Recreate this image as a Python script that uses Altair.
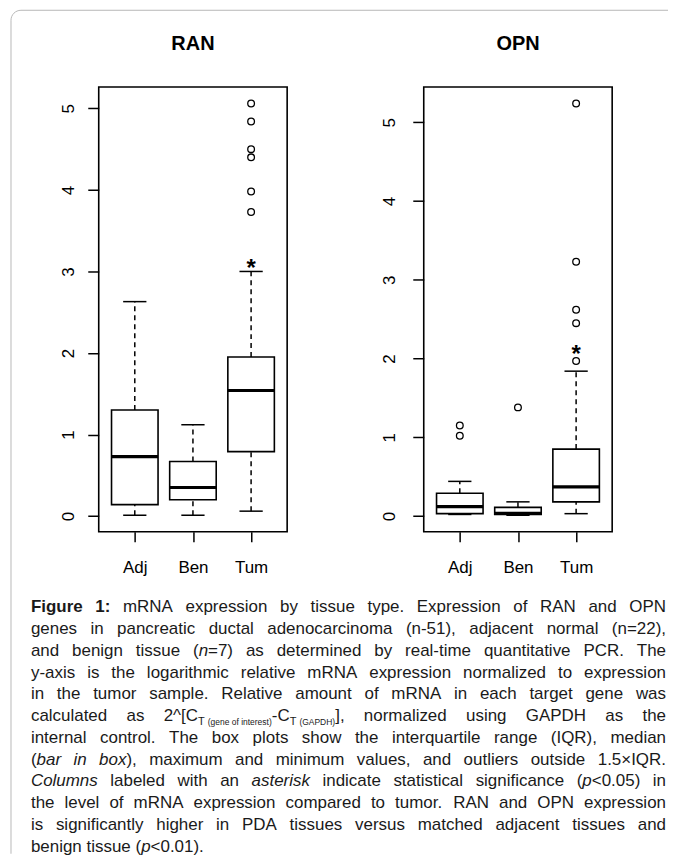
import json
import altair as alt
import pandas as pd

# ---------------- data ----------------
categories = ["Adj", "Ben", "Tum"]

ran_low = [0.01, 0.01, 0.06]
ran_q1 = [0.14, 0.20, 0.79]
ran_median = [0.73, 0.35, 1.54]
ran_q3 = [1.30, 0.67, 1.95]
ran_high = [2.63, 1.12, 3.00]
ran_outlier_group = ["Tum", "Tum", "Tum", "Tum", "Tum", "Tum"]
ran_outlier_value = [5.06, 4.84, 4.50, 4.40, 3.98, 3.73]
ran_star_group = ["Tum"]
ran_star_value = [3.11]

opn_low = [0.02, 0.01, 0.03]
opn_q1 = [0.03, 0.02, 0.18]
opn_median = [0.12, 0.035, 0.37]
opn_q3 = [0.29, 0.11, 0.85]
opn_high = [0.44, 0.18, 1.84]
opn_outlier_group = ["Adj", "Adj", "Ben", "Tum", "Tum", "Tum", "Tum", "Tum"]
opn_outlier_value = [1.15, 1.02, 1.38, 1.97, 2.45, 2.62, 3.23, 5.24]
opn_star_group = ["Tum"]
opn_star_value = [2.13]

y_ticks = [0, 1, 2, 3, 4, 5]

caption_lines = [
    "*Figure 1:* mRNA expression by tissue type. Expression of RAN and OPN",
    "genes in pancreatic ductal adenocarcinoma (n-51), adjacent normal (n=22),",
    "and benign tissue (_n_=7) as determined by real-time quantitative PCR. The",
    "y-axis is the logarithmic relative mRNA expression normalized to expression",
    "in the tumor sample. Relative amount of mRNA in each target gene was",
    "calculated as 2^[C~T ~`(gene of interest)`-C~T ~`(GAPDH)`], normalized using GAPDH as the",
    "internal control. The box plots show the interquartile range (IQR), median",
    "(_bar in box_), maximum and minimum values, and outliers outside 1.5\u00d7IQR.",
    "_Columns_ labeled with an _asterisk_ indicate statistical significance (_p_<0.05) in",
    "the level of mRNA expression compared to tumor. RAN and OPN expression",
    "is significantly higher in PDA tissues versus matched adjacent tissues and",
    "benign tissue (_p_<0.01).",
]

# ---------------- layout constants ----------------
FONT = "Liberation Sans"
PW, PH = 189, 446             # plot area of each panel
PLOT_LEFT, PLOT_TOP = 98, 87  # page position of the left plot area
CAP_X0, CAP_X1 = 30, 667
CAP_Y0, CAP_DY = 614, 21.8
CAP_FS = 17
FRAME_L, FRAME_T, FRAME_R, FRAME_B, FRAME_RAD = 10, 10, 669, 856, 10

# Arial / Liberation Sans advance widths (1/1000 em)
W = {}
for ch, w in zip(" !\"#$%&'()*+,-./", [278, 278, 355, 556, 556, 889, 667, 191, 333, 333, 389, 584, 278, 333, 278, 278]):
    W[ch] = w
for ch in "0123456789":
    W[ch] = 556
W.update({":": 278, ";": 278, "<": 584, "=": 584, ">": 584, "?": 556, "[": 278, "]": 278, "^": 469, "\u00d7": 584})
for ch, w in zip("ABCDEFGHIJKLMNOPQRSTUVWXYZ",
                 [667, 667, 722, 722, 667, 611, 778, 722, 278, 500, 667, 556, 833, 722, 778, 667, 778, 722, 667, 611, 722, 667, 944, 667, 667, 611]):
    W[ch] = w
for ch, w in zip("abcdefghijklmnopqrstuvwxyz",
                 [556, 556, 500, 556, 556, 278, 556, 556, 222, 222, 500, 222, 833, 556, 556, 556, 556, 333, 500, 278, 556, 500, 722, 500, 500, 500]):
    W[ch] = w
WB = dict(W)
WB.update({"F": 611, "i": 278, "g": 611, "u": 611, "r": 389, "e": 556, "1": 556, ":": 333})

STYLES = {
    "regular": dict(size=CAP_FS, weight="normal", style="normal", dy=0),
    "bold": dict(size=CAP_FS, weight="bold", style="normal", dy=0),
    "italic": dict(size=CAP_FS, weight="normal", style="italic", dy=0),
    "sub": dict(size=11, weight="normal", style="normal", dy=4),
    "tiny": dict(size=8.5, weight="normal", style="normal", dy=4),
}


def run_width(text, st):
    table = WB if st == "bold" else W
    return sum(table.get(c, 556) for c in text) * STYLES[st]["size"] / 1000.0


def parse_line(line):
    words, runs, buf = [], [], ""
    bold = ital = False
    sub = ""

    def cur():
        if bold:
            return "bold"
        if ital:
            return "italic"
        return sub or "regular"

    for ch in line:
        if ch in "*_~`":
            if buf:
                runs.append((buf, cur()))
                buf = ""
            if ch == "*":
                bold = not bold
            elif ch == "_":
                ital = not ital
            elif ch == "~":
                sub = "" if sub == "sub" else "sub"
            else:
                sub = "" if sub == "tiny" else "tiny"
        elif ch == " " and not sub:
            if buf:
                runs.append((buf, cur()))
                buf = ""
            if runs:
                words.append(runs)
                runs = []
        else:
            buf += ch
    if buf:
        runs.append((buf, cur()))
    if runs:
        words.append(runs)
    return words


cap_rows = {k: [] for k in STYLES}
for li, line in enumerate(caption_lines):
    words = parse_line(line)
    widths = [sum(run_width(t, s) for t, s in wd) for wd in words]
    natural = sum(widths)
    last = li == len(caption_lines) - 1
    gap = W[" "] * CAP_FS / 1000.0 if (last or len(words) < 2) else (CAP_X1 - CAP_X0 - natural) / (len(words) - 1)
    x = CAP_X0
    y = CAP_Y0 + li * CAP_DY
    for wd, ww in zip(words, widths):
        xx = x
        for t, s in wd:
            cap_rows[s].append({"px": xx - PLOT_LEFT, "py": y + STYLES[s]["dy"] - PLOT_TOP, "text": t})
            xx += run_width(t, s)
        x += ww + gap


def caption_layers():
    layers = []
    for s, rows in cap_rows.items():
        if not rows:
            continue
        st = STYLES[s]
        layers.append(
            alt.Chart(pd.DataFrame(rows)).mark_text(
                align="left", baseline="alphabetic", font=FONT, fontSize=st["size"],
                fontWeight=st["weight"], fontStyle=st["style"], color="#1a1a1a",
            ).encode(
                x=alt.X("px:Q", scale=None),
                y=alt.Y("py:Q", scale=None),
                text="text:N",
            )
        )
    return layers


def frame_layers():
    one = pd.DataFrame({"a": [0]})
    style = dict(color="#b8b8b8", strokeWidth=1)
    top = alt.Chart(one).mark_rule(**style).encode(
        x=alt.value(FRAME_L + FRAME_RAD - PLOT_LEFT), x2=alt.value(FRAME_R - PLOT_LEFT),
        y=alt.value(FRAME_T - PLOT_TOP))
    left_edge = alt.Chart(one).mark_rule(**style).encode(
        x=alt.value(FRAME_L - PLOT_LEFT),
        y=alt.value(FRAME_T + FRAME_RAD - PLOT_TOP), y2=alt.value(FRAME_B - PLOT_TOP))
    # rounded corner: quarter circle as a custom symbol path (scaled by sqrt(size)/2)
    corner = alt.Chart(one).mark_point(
        shape="M -1 0 A 1 1 0 0 1 0 -1", filled=False, stroke="#b8b8b8", strokeWidth=1,
        size=(2 * FRAME_RAD) ** 2, opacity=1,
    ).encode(x=alt.value(FRAME_L + FRAME_RAD - PLOT_LEFT), y=alt.value(FRAME_T + FRAME_RAD - PLOT_TOP))
    return [top, left_edge, corner]


def panel(gene, low, q1, med, q3, high, og, ov, sg, sv, label_pad, with_caption):
    pos = list(range(1, len(categories) + 1))
    box = pd.DataFrame({"cat": categories, "pos": pos, "low": low, "q1": q1,
                        "med": med, "q3": q3, "high": high})
    box["xl"] = box["pos"] - 0.4
    box["xr"] = box["pos"] + 0.4
    box["cl"] = box["pos"] - 0.2
    box["cr"] = box["pos"] + 0.2
    outl = pd.DataFrame({"cat": og, "value": ov})
    outl["pos"] = [categories.index(c) + 1 for c in og]
    star = pd.DataFrame({"cat": sg, "value": sv})
    star["pos"] = [categories.index(c) + 1 for c in sg]

    ymin = min(low + ov)
    ymax = max(high + ov)
    rng = ymax - ymin
    ys = alt.Scale(domain=[ymin - 0.04 * rng, ymax + 0.04 * rng], nice=False, zero=False)
    n = len(categories)
    xs = alt.Scale(domain=[0.5 - 0.04 * n, n + 0.5 + 0.04 * n], nice=False, zero=False)

    xaxis = alt.Axis(values=pos, labelExpr=json.dumps([""] + categories) + "[datum.value]",
                     title=None, tickSize=10, labelPadding=18, labelFlush=False,
                     labelBaseline="top", labelOverlap=False)
    yaxis = alt.Axis(values=y_ticks, format="d", title=None, tickSize=11, labelAngle=270,
                     labelAlign="center", labelBaseline="alphabetic", labelPadding=label_pad,
                     labelFlush=False, labelOverlap=False)

    def X(f):
        return alt.X(f, scale=xs, axis=xaxis, title=None)

    def Y(f):
        return alt.Y(f, scale=ys, axis=yaxis, title=None)

    base = alt.Chart(box)
    upper = base.mark_rule(strokeDash=[5, 4], strokeWidth=1.5, color="black").encode(
        x=X("pos:Q"), y=Y("q3:Q"), y2="high:Q")
    lower = base.mark_rule(strokeDash=[5, 4], strokeWidth=1.5, color="black").encode(
        x=X("pos:Q"), y=Y("low:Q"), y2="q1:Q")
    cap_hi = base.mark_rule(strokeWidth=1.5, color="black").encode(
        x=X("cl:Q"), x2="cr:Q", y=Y("high:Q"))
    cap_lo = base.mark_rule(strokeWidth=1.5, color="black").encode(
        x=X("cl:Q"), x2="cr:Q", y=Y("low:Q"))
    rect = base.mark_rect(fill="white", stroke="black", strokeWidth=1.6).encode(
        x=X("xl:Q"), x2="xr:Q", y=Y("q1:Q"), y2="q3:Q")
    median = base.mark_rule(strokeWidth=3.2, color="black").encode(
        x=X("xl:Q"), x2="xr:Q", y=Y("med:Q"))
    points = alt.Chart(outl).mark_point(shape="circle", filled=False, size=45,
                                        strokeWidth=1.3, color="black", opacity=1).encode(
        x=X("pos:Q"), y=Y("value:Q"))
    stars = alt.Chart(star).mark_text(text="*", font=FONT, fontSize=24, fontWeight="bold",
                                      align="center", baseline="alphabetic", dy=14,
                                      color="black").encode(
        x=X("pos:Q"), y=Y("value:Q"))
    title = alt.Chart(pd.DataFrame({"t": [gene]})).mark_text(
        font=FONT, fontSize=20, fontWeight="bold", align="center", baseline="alphabetic",
        color="black",
    ).encode(x=alt.value(PW / 2), y=alt.value(-37), text="t:N")

    layers = [upper, lower, cap_hi, cap_lo, rect, median, points, stars, title]
    if with_caption:
        layers += frame_layers() + caption_layers()
    return alt.layer(*layers).properties(width=PW, height=PH)


left = panel("RAN", ran_low, ran_q1, ran_median, ran_q3, ran_high,
             ran_outlier_group, ran_outlier_value, ran_star_group, ran_star_value, 14, True)
right = panel("OPN", opn_low, opn_q1, opn_median, opn_q3, opn_high,
              opn_outlier_group, opn_outlier_value, opn_star_group, opn_star_value, 18, False)

chart = alt.hconcat(left, right, spacing=137, bounds="flush", background="white",
                    padding={"left": 0, "top": -2, "right": 0, "bottom": 0}).configure_view(
    stroke="black", strokeWidth=1.6
).configure_axis(
    domain=False, grid=False, tickColor="black", tickWidth=1.5,
    labelColor="black", labelFont=FONT, labelFontSize=17,
)

chart.save("out.html", embed_options={"renderer": "svg", "actions": False})
